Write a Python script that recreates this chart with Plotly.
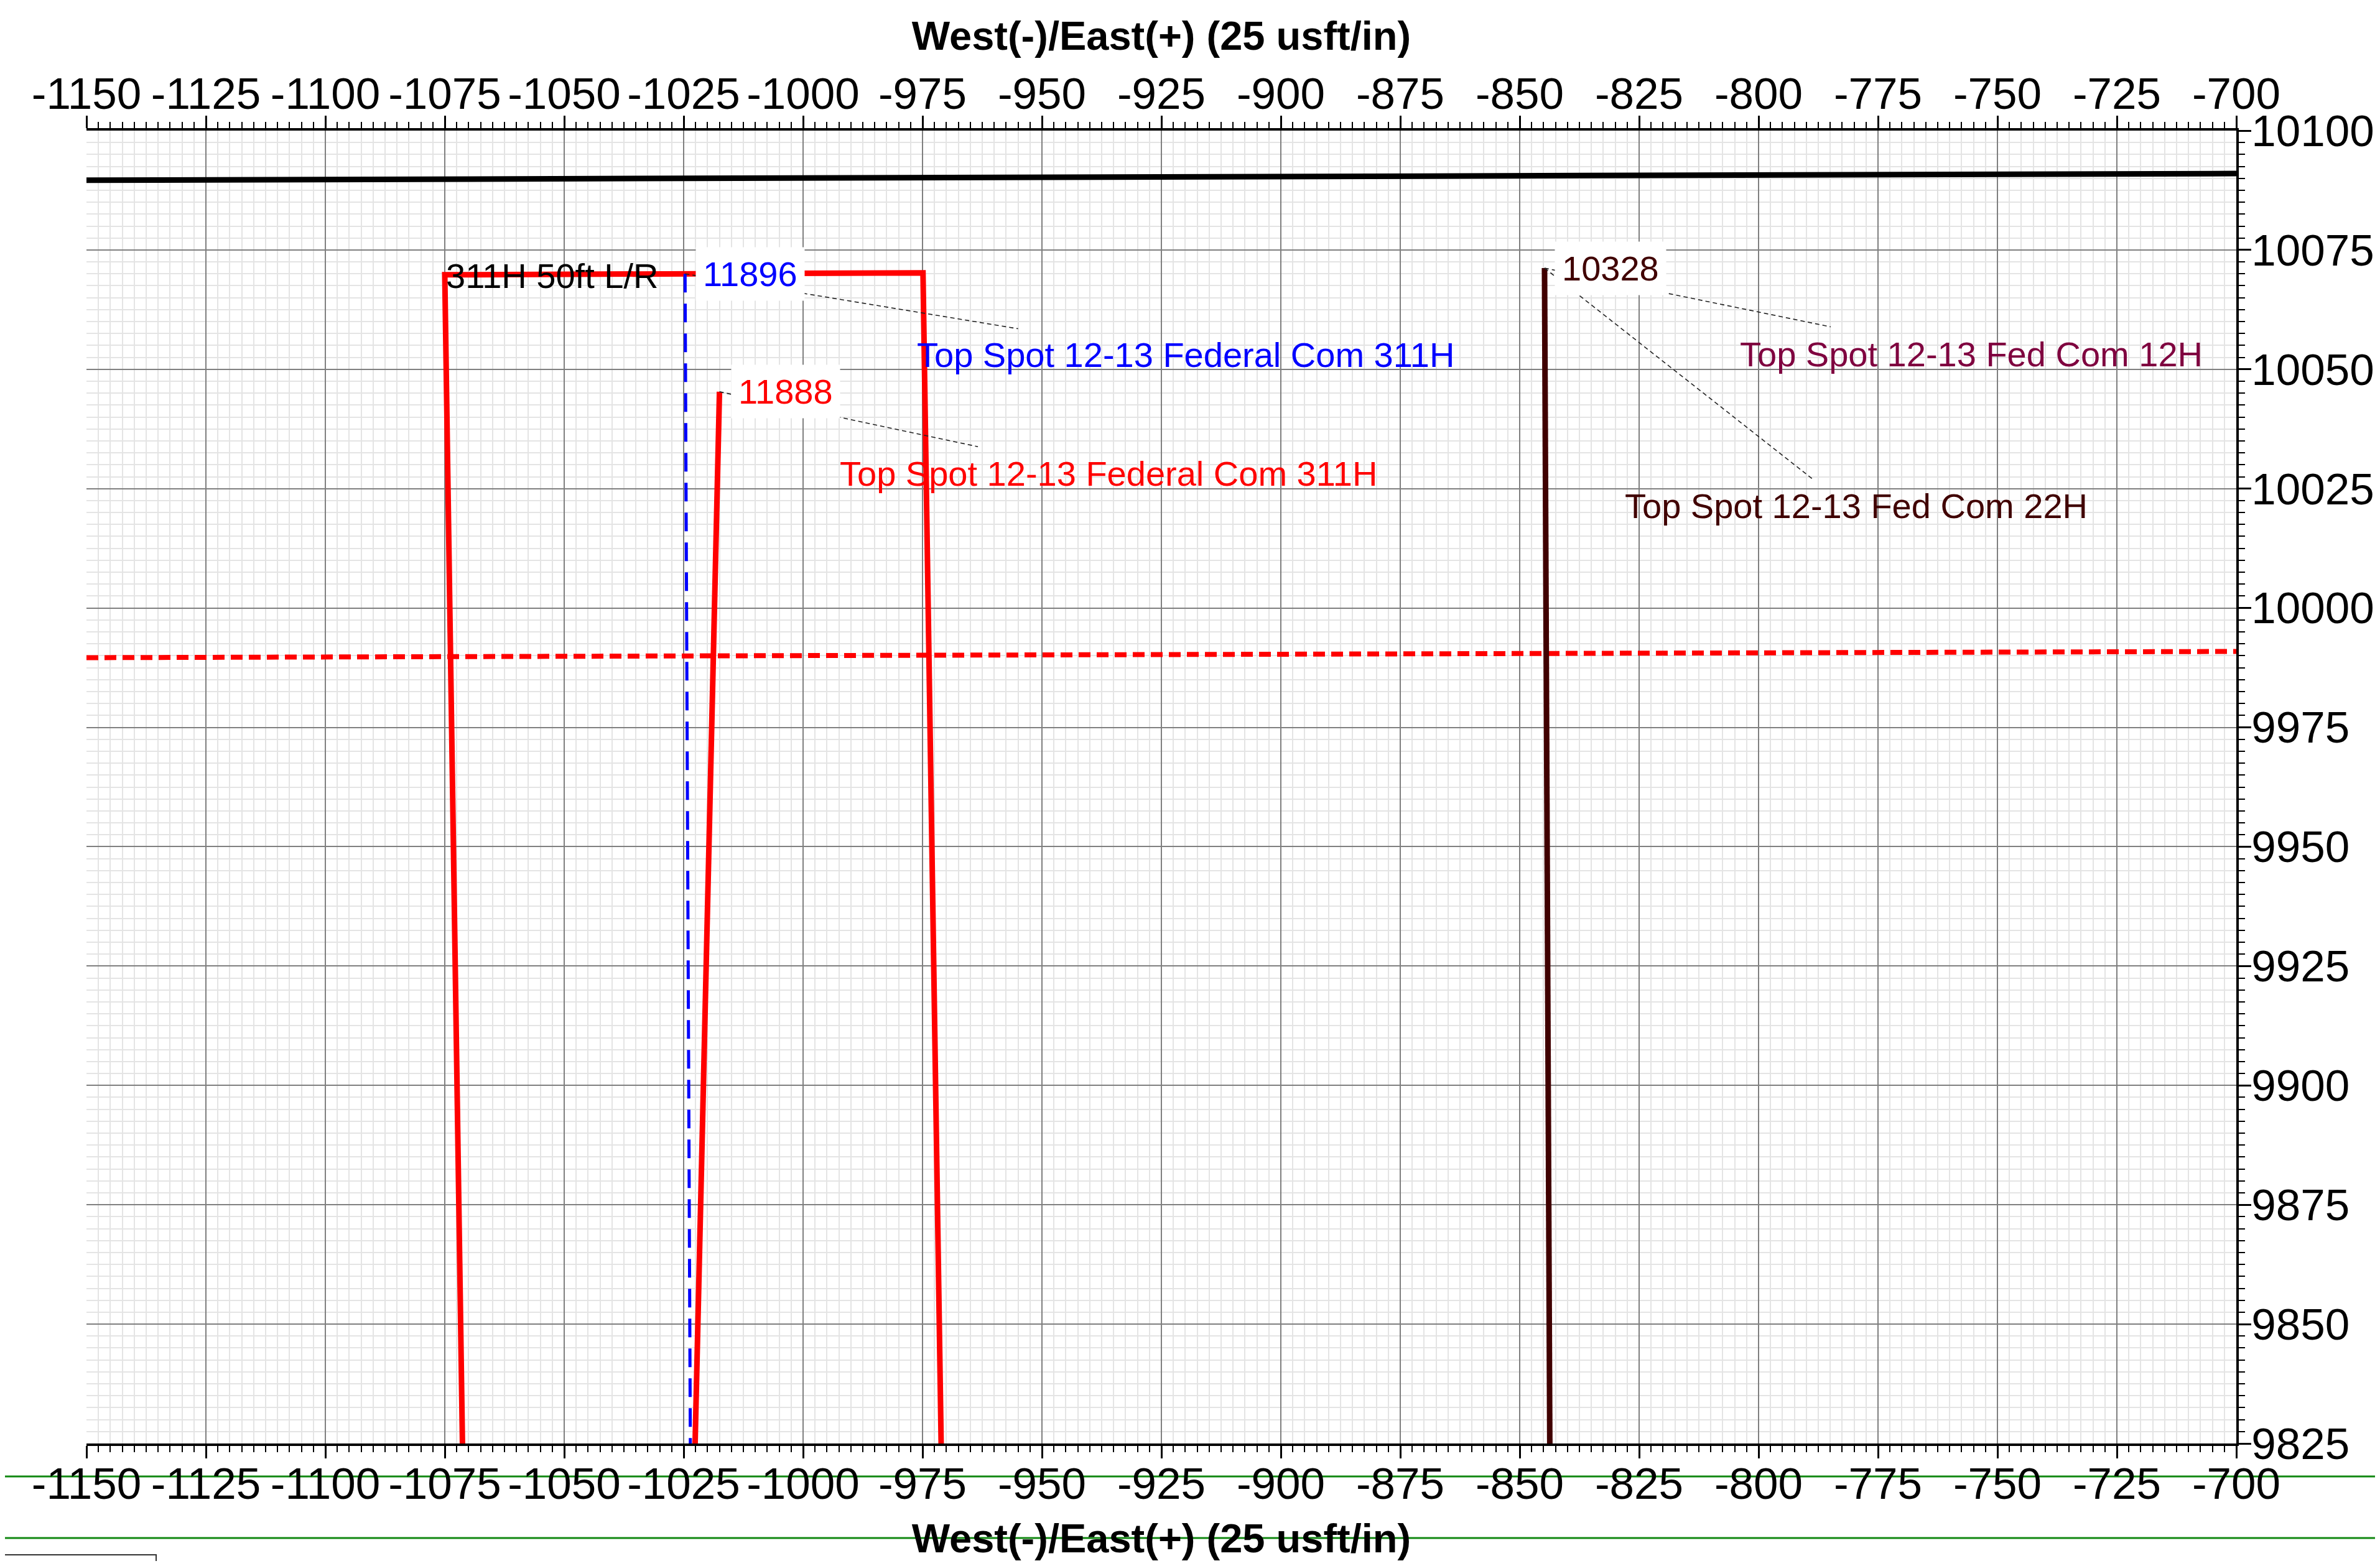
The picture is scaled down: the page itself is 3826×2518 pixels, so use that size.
import plotly.graph_objects as go

# ---------------- data ----------------
x_ticks = list(range(-1150, -699, 25))
x_ticktext = [str(v) for v in x_ticks]
y_ticks = list(range(9825, 10101, 25))
y_ticktext = [str(v) for v in y_ticks]

# reference lines
black_x = [-1150, -700]
black_y = [10089.6, 10091.0]
reddot_x = [-1150, -700]
reddot_y = [9989.6, 9990.9]

# 311H 50ft L/R outline
box_x = [-1071.3, -1075.0, -974.9, -971.1]
box_y = [9825, 10069.8, 10070.2, 9825]

# Top Spot 12-13 Federal Com 311H (blue plan)
blue_x = [-1024.7, -1023.6]
blue_y = [10070.0, 9825]

# Top Spot 12-13 Federal Com 311H (red)
red_x = [-1017.5, -1022.6]
red_y = [10045.3, 9825]

# Top Spot 12-13 Fed Com 22H / 12H
brown_x = [-844.8, -843.7]
brown_y = [10071.2, 9825]

# labels
lbl_text = ["11896", "11888", "10328",
            "Top Spot 12-13 Federal Com 311H", "Top Spot 12-13 Federal Com 311H",
            "Top Spot 12-13 Fed Com 12H", "Top Spot 12-13 Fed Com 22H", "311H 50ft L/R"]
lbl_x = [-1011.1, -1003.7, -831.0, -919.9, -936.1, -755.5, -779.6, -1052.6]
lbl_y = [10070.0, 10045.3, 10071.1, 10053.0, 10028.2, 10053.2, 10021.4, 10069.6]
lbl_color = ["#0000ff", "#ff0000", "#400000", "#0000ff", "#ff0000", "#7f003f", "#400000", "#000000"]
lbl_box = [True, True, True, False, False, False, False, False]

# leader lines (from well top to label)
lead_x0 = [-1024.7, -1017.5, -844.8, -844.8]
lead_y0 = [10070.0, 10045.3, 10071.2, 10071.2]
lead_x1 = [-955.0, -963.4, -784.9, -788.8]
lead_y1 = [10058.5, 10033.8, 10058.9, 10027.1]

FONT = "Liberation Sans, Arial, Helvetica, sans-serif"
OFF = 8  # default page body margin
SW, SH = 3826, 2518
W, H = SW - 2 * OFF, SH - 2 * OFF
PX0, PX1, PY0, PY1 = 139, 3595, 210, 2321  # plot area in screen px
L, R, T, B = PX0 - OFF, W - (PX1 - OFF), PY0 - OFF, H - (PY1 - OFF)

fig = go.Figure()

fig.add_trace(go.Scatter(x=black_x, y=black_y, mode="lines",
                         line=dict(color="#000000", width=9), hoverinfo="skip"))
fig.add_trace(go.Scatter(x=reddot_x, y=reddot_y, mode="lines",
                         line=dict(color="#ff0000", width=8, dash="19px,10px"), hoverinfo="skip"))
fig.add_trace(go.Scatter(x=box_x, y=box_y, mode="lines",
                         line=dict(color="#ff0000", width=9), hoverinfo="skip"))
fig.add_trace(go.Scatter(x=blue_x, y=blue_y, mode="lines",
                         line=dict(color="#0000ff", width=5, dash="30px,18px"), hoverinfo="skip"))
fig.add_trace(go.Scatter(x=red_x, y=red_y, mode="lines",
                         line=dict(color="#ff0000", width=9), hoverinfo="skip"))
fig.add_trace(go.Scatter(x=brown_x, y=brown_y, mode="lines",
                         line=dict(color="#400000", width=9), hoverinfo="skip"))
for i in range(len(lead_x0)):
    fig.add_trace(go.Scatter(x=[lead_x0[i], lead_x1[i]], y=[lead_y0[i], lead_y1[i]], mode="lines",
                             line=dict(color="#222222", width=1.6, dash="7px,5px"), hoverinfo="skip"))
# invisible trace for top axis
fig.add_trace(go.Scatter(x=black_x, y=black_y, xaxis="x2", mode="lines",
                         line=dict(width=0), opacity=0, hoverinfo="skip"))

for t, x, y, c, b in zip(lbl_text, lbl_x, lbl_y, lbl_color, lbl_box):
    fig.add_annotation(x=x, y=y, text=t, showarrow=False, xanchor="center", yanchor="middle",
                       font=dict(family=FONT, size=56, color=c),
                       bgcolor="#ffffff" if b else "rgba(0,0,0,0)", borderpad=11 if b else 0)

def xaxis_common(standoff, label_standoff):
    return dict(
        range=[-1150, -700], tickmode="array", tickvals=x_ticks, ticktext=x_ticktext,
        ticks="outside", ticklen=20, tickwidth=3, tickcolor="#000000",
        showline=True, linewidth=4, linecolor="#000000", zeroline=False,
        tickfont=dict(family=FONT, size=71, color="#000000"),
        ticklabelstandoff=label_standoff,
        title=dict(text="West(-)/East(+) (25 usft/in)",
                   font=dict(family=FONT, size=65, color="#000000", weight="bold"), standoff=standoff),
    )

fig.update_layout(
    width=W, height=H,
    margin=dict(l=L, r=R, t=T, b=B, autoexpand=False),
    paper_bgcolor="#ffffff", plot_bgcolor="#ffffff",
    showlegend=False,
    xaxis=dict(**xaxis_common(40, -20), showgrid=True, gridcolor="#7f7f7f", gridwidth=2,
               minor=dict(tickmode="linear", tick0=-1150, dtick=2.5, ticks="outside", ticklen=10,
                          tickwidth=2, tickcolor="#000000", showgrid=True,
                          gridcolor="#e4e4e4", gridwidth=2),
               anchor="y", side="bottom"),
    xaxis2=dict(**xaxis_common(10, -17), showgrid=False, overlaying="x", matches="x", side="top", anchor="y",
                minor=dict(tickmode="linear", tick0=-1150, dtick=2.5, ticks="outside", ticklen=10,
                           tickwidth=2, tickcolor="#000000")),
    yaxis=dict(range=[9825, 10100], tickmode="array", tickvals=y_ticks, ticktext=y_ticktext,
               side="right", ticks="outside", ticklen=20, tickwidth=3, tickcolor="#000000",
               showline=True, linewidth=4, linecolor="#000000", zeroline=False,
               showgrid=True, gridcolor="#7f7f7f", gridwidth=2,
               tickfont=dict(family=FONT, size=71, color="#000000"),
               ticklabelstandoff=-14,
               minor=dict(tickmode="linear", tick0=9825, dtick=2.5, ticks="outside", ticklen=10,
                          tickwidth=2, tickcolor="#000000", showgrid=True,
                          gridcolor="#e4e4e4", gridwidth=2)),
)

# page decoration lines at the bottom (outside the plot), given in screen px
pw = W - L - R
ph = H - T - B
def px2paper_x(px):
    return (px - OFF - L) / pw
def px2paper_y(py):
    return (H - B - (py - OFF)) / ph

for py, x0 in [(2374, 0), (2473, 0), (2516, 251)]:
    fig.add_shape(type="line", xref="paper", yref="paper",
                  x0=px2paper_x(x0 - OFF), x1=px2paper_x(SW + OFF), y0=px2paper_y(py), y1=px2paper_y(py),
                  line=dict(color="#118811", width=3), layer="below")
fig.add_shape(type="rect", xref="paper", yref="paper",
              x0=px2paper_x(-20), x1=px2paper_x(251), y0=px2paper_y(2500), y1=px2paper_y(2540),
              line=dict(color="#333333", width=2), fillcolor="#ffffff", layer="below")

fig.write_html("out.html")
